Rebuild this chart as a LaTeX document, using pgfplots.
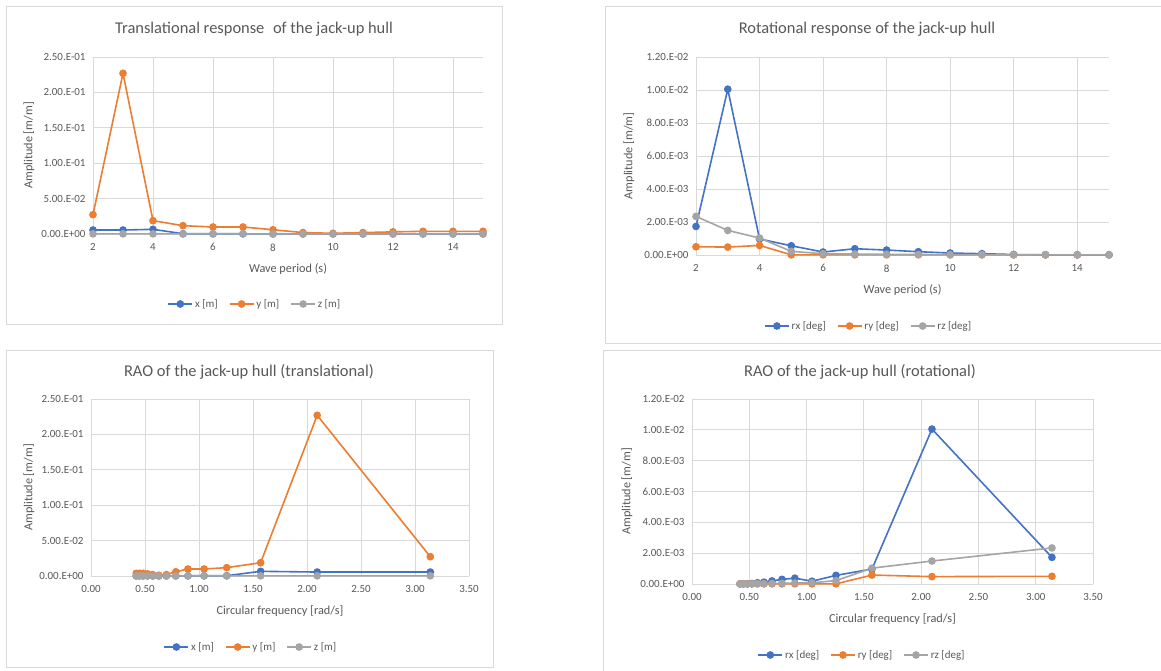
\documentclass[border=0pt]{standalone}
\usepackage{pgfplots}
\pgfplotsset{compat=1.18}
\usepackage{pgfplotstable}
\usepackage{fontspec}
\setmainfont{Carlito}
\definecolor{cblue}{HTML}{4472C4}
\definecolor{corange}{HTML}{ED7D31}
\definecolor{cgray}{HTML}{A5A5A5}
\definecolor{gridc}{HTML}{D9D9D9}
\definecolor{txt}{HTML}{595959}

% T = wave period (s), w = circular frequency (rad/s)
\pgfplotstableread{
T  w      x       y       z       rx       ry       rz
2  3.1416 0.0056  0.0273  0.0002  0.00173  0.00050  0.00234
3  2.0944 0.0056  0.2270  0.0002  0.01005  0.00048  0.00149
4  1.5708 0.0066  0.0188  0.0002  0.00097  0.00058  0.00103
5  1.2566 0.0004  0.0118  0.0001  0.00056  0.00001  0.00022
6  1.0472 0.0003  0.0099  0.0001  0.00018  0.00001  0.00008
7  0.8976 0.0003  0.0099  0.0001  0.00038  0.00001  0.00006
8  0.7854 0.0002  0.0060  0.0001  0.00030  0.00001  0.00004
9  0.6981 0.0002  0.0020  0.0001  0.00020  0.00001  0.00003
10 0.6283 0.0002  0.0010  0.0001  0.00012  0.00001  0.00002
11 0.5712 0.0002  0.0020  0.0001  0.00008  0.00001  0.00002
12 0.5236 0.0002  0.0030  0.0001  0.00003  0.00001  0.00001
13 0.4833 0.0002  0.0038  0.0001  0.00001  0.00001  0.00001
14 0.4488 0.0002  0.0038  0.0001  0.00001  0.00001  0.00001
15 0.4189 0.0002  0.0038  0.0001  0.00001  0.00001  0.00001
}\datatable

\pgfplotsset{
  panel/.style={
    scale only axis,
    anchor=south west,
    /pgf/number format/assume math mode=true,
    axis x line=bottom, axis y line=left,
    axis line style={-, draw=gridc, line width=0.8bp},
    grid=major, major grid style={draw=gridc, line width=0.8bp},
    major tick length=0pt,
    scaled y ticks=false, scaled x ticks=false,
    ymin=0,
    xticklabel style={font=\fontsize{11}{12}\selectfont, text=txt, yshift=-6bp},
    yticklabel style={font=\fontsize{11}{12}\selectfont, text=txt, xshift=-4bp},
    every axis x label/.style={font=\fontsize{12.3}{14}\selectfont, text=txt, at={(axis description cs:0.5,0)}, anchor=center, yshift=-35bp},
    every axis title/.style={font=\fontsize{16.5}{18}\selectfont, text=txt, anchor=center},
    legend style={draw=none, fill=none, legend columns=3, font=\fontsize{11}{12}\selectfont, text=txt, anchor=center,
      /tikz/every even column/.append style={column sep=9bp}},
    legend image code/.code={\draw[#1, mark repeat=2, mark phase=2] plot coordinates {(0bp,0bp) (12bp,0bp) (24bp,0bp)};},
    every axis plot/.append style={line width=1.6bp, mark=*, mark size=3bp},
  },
  ylab/.style={every axis y label/.style={font=\fontsize{12.3}{14}\selectfont, text=txt,
    at={([xshift=-#1]axis description cs:0,0.5)}, rotate=90, anchor=center}},
  transy/.style={ytick={0,0.05,0.1,0.15,0.2,0.25}, ymax=0.25,
    yticklabels={0.00.E+00,5.00.E-02,1.00.E-01,1.50.E-01,2.00.E-01,2.50.E-01}},
  roty/.style={ytick={0,0.002,0.004,0.006,0.008,0.01,0.012}, ymax=0.012,
    yticklabels={0.00.E+00,2.00.E-03,4.00.E-03,6.00.E-03,8.00.E-03,1.00.E-02,1.20.E-02}},
  periodx/.style={xmin=2, xmax=15, xtick={2,4,6,8,10,12,14},
    xticklabels={2,4,6,8,10,12,14}},
  freqx/.style={xmin=0, xmax=3.5, xtick={0,0.5,1,1.5,2,2.5,3,3.5},
    xticklabels={0.00,0.50,1.00,1.50,2.00,2.50,3.00,3.50}},
}

\begin{document}
\begin{tikzpicture}
\useasboundingbox (0,0) rectangle (1161bp,-671bp);
\fill[white] (0,0) rectangle (1161bp,-671bp);
% chart frames
\draw[gridc, line width=0.8bp] (6bp,-6bp) rectangle (502bp,-324bp);
\draw[gridc, line width=0.8bp] (1170bp,-6bp) -- (605bp,-6bp) -- (605bp,-343bp) -- (1170bp,-343bp);
\draw[gridc, line width=0.8bp] (6bp,-350bp) rectangle (493bp,-667bp);
\draw[gridc, line width=0.8bp] (1170bp,-350bp) -- (603bp,-350bp) -- (603bp,-680bp);

% Panel 1
\begin{axis}[panel, transy, periodx, ylab=64bp,
  at={(93bp,-234bp)}, width=390bp, height=177bp,
  title={Translational response\hspace{0.3em} of the jack-up hull},
  title style={at={([yshift=28bp]axis description cs:0.413,1)}},
  xlabel={Wave period (s)}, ylabel={Amplitude [m/m]},
  legend style={at={(axis description cs:0.415,0)}, yshift=-70bp}]
\addplot[cblue, mark options={fill=cblue}] table[x=T, y=x] {\datatable};
\addplot[corange, mark options={fill=corange}] table[x=T, y=y] {\datatable};
\addplot[cgray, mark options={fill=cgray}] table[x=T, y=z] {\datatable};
\legend{x [m], y [m], z [m]}
\end{axis}

% Panel 2
\begin{axis}[panel, roty, periodx, ylab=67bp,
  at={(696bp,-255bp)}, width=413bp, height=198bp,
  title={Rotational response of the jack-up hull},
  title style={at={([yshift=28bp]axis description cs:0.414,1)}},
  xlabel={Wave period (s)}, ylabel={Amplitude [m/m]},
  legend style={at={(axis description cs:0.418,0)}, yshift=-71bp}]
\addplot[cblue, mark options={fill=cblue}] table[x=T, y=rx] {\datatable};
\addplot[corange, mark options={fill=corange}] table[x=T, y=ry] {\datatable};
\addplot[cgray, mark options={fill=cgray}] table[x=T, y=rz] {\datatable};
\legend{rx [deg], ry [deg], rz [deg]}
\end{axis}

% Panel 3
\begin{axis}[panel, transy, freqx, ylab=62bp,
  at={(91bp,-576bp)}, width=378bp, height=177bp,
  title={RAO of the jack-up hull (translational)},
  title style={at={([yshift=27bp]axis description cs:0.418,1)}},
  xlabel={Circular frequency [rad/s]}, ylabel={Amplitude [m/m]},
  legend style={at={(axis description cs:0.423,0)}, yshift=-71bp}]
\addplot[cblue, mark options={fill=cblue}] table[x=w, y=x] {\datatable};
\addplot[corange, mark options={fill=corange}] table[x=w, y=y] {\datatable};
\addplot[cgray, mark options={fill=cgray}] table[x=w, y=z] {\datatable};
\legend{x [m], y [m], z [m]}
\end{axis}

% Panel 4
\begin{axis}[panel, roty, freqx, ylab=65bp,
  at={(692bp,-584bp)}, width=401bp, height=185bp,
  title={RAO of the jack-up hull (rotational)},
  title style={at={([yshift=27bp]axis description cs:0.419,1)}},
  xlabel={Circular frequency [rad/s]}, ylabel={Amplitude [m/m]},
  legend style={at={(axis description cs:0.424,0)}, yshift=-71bp}]
\addplot[cblue, mark options={fill=cblue}] table[x=w, y=rx] {\datatable};
\addplot[corange, mark options={fill=corange}] table[x=w, y=ry] {\datatable};
\addplot[cgray, mark options={fill=cgray}] table[x=w, y=rz] {\datatable};
\legend{rx [deg], ry [deg], rz [deg]}
\end{axis}
\end{tikzpicture}
\end{document}
